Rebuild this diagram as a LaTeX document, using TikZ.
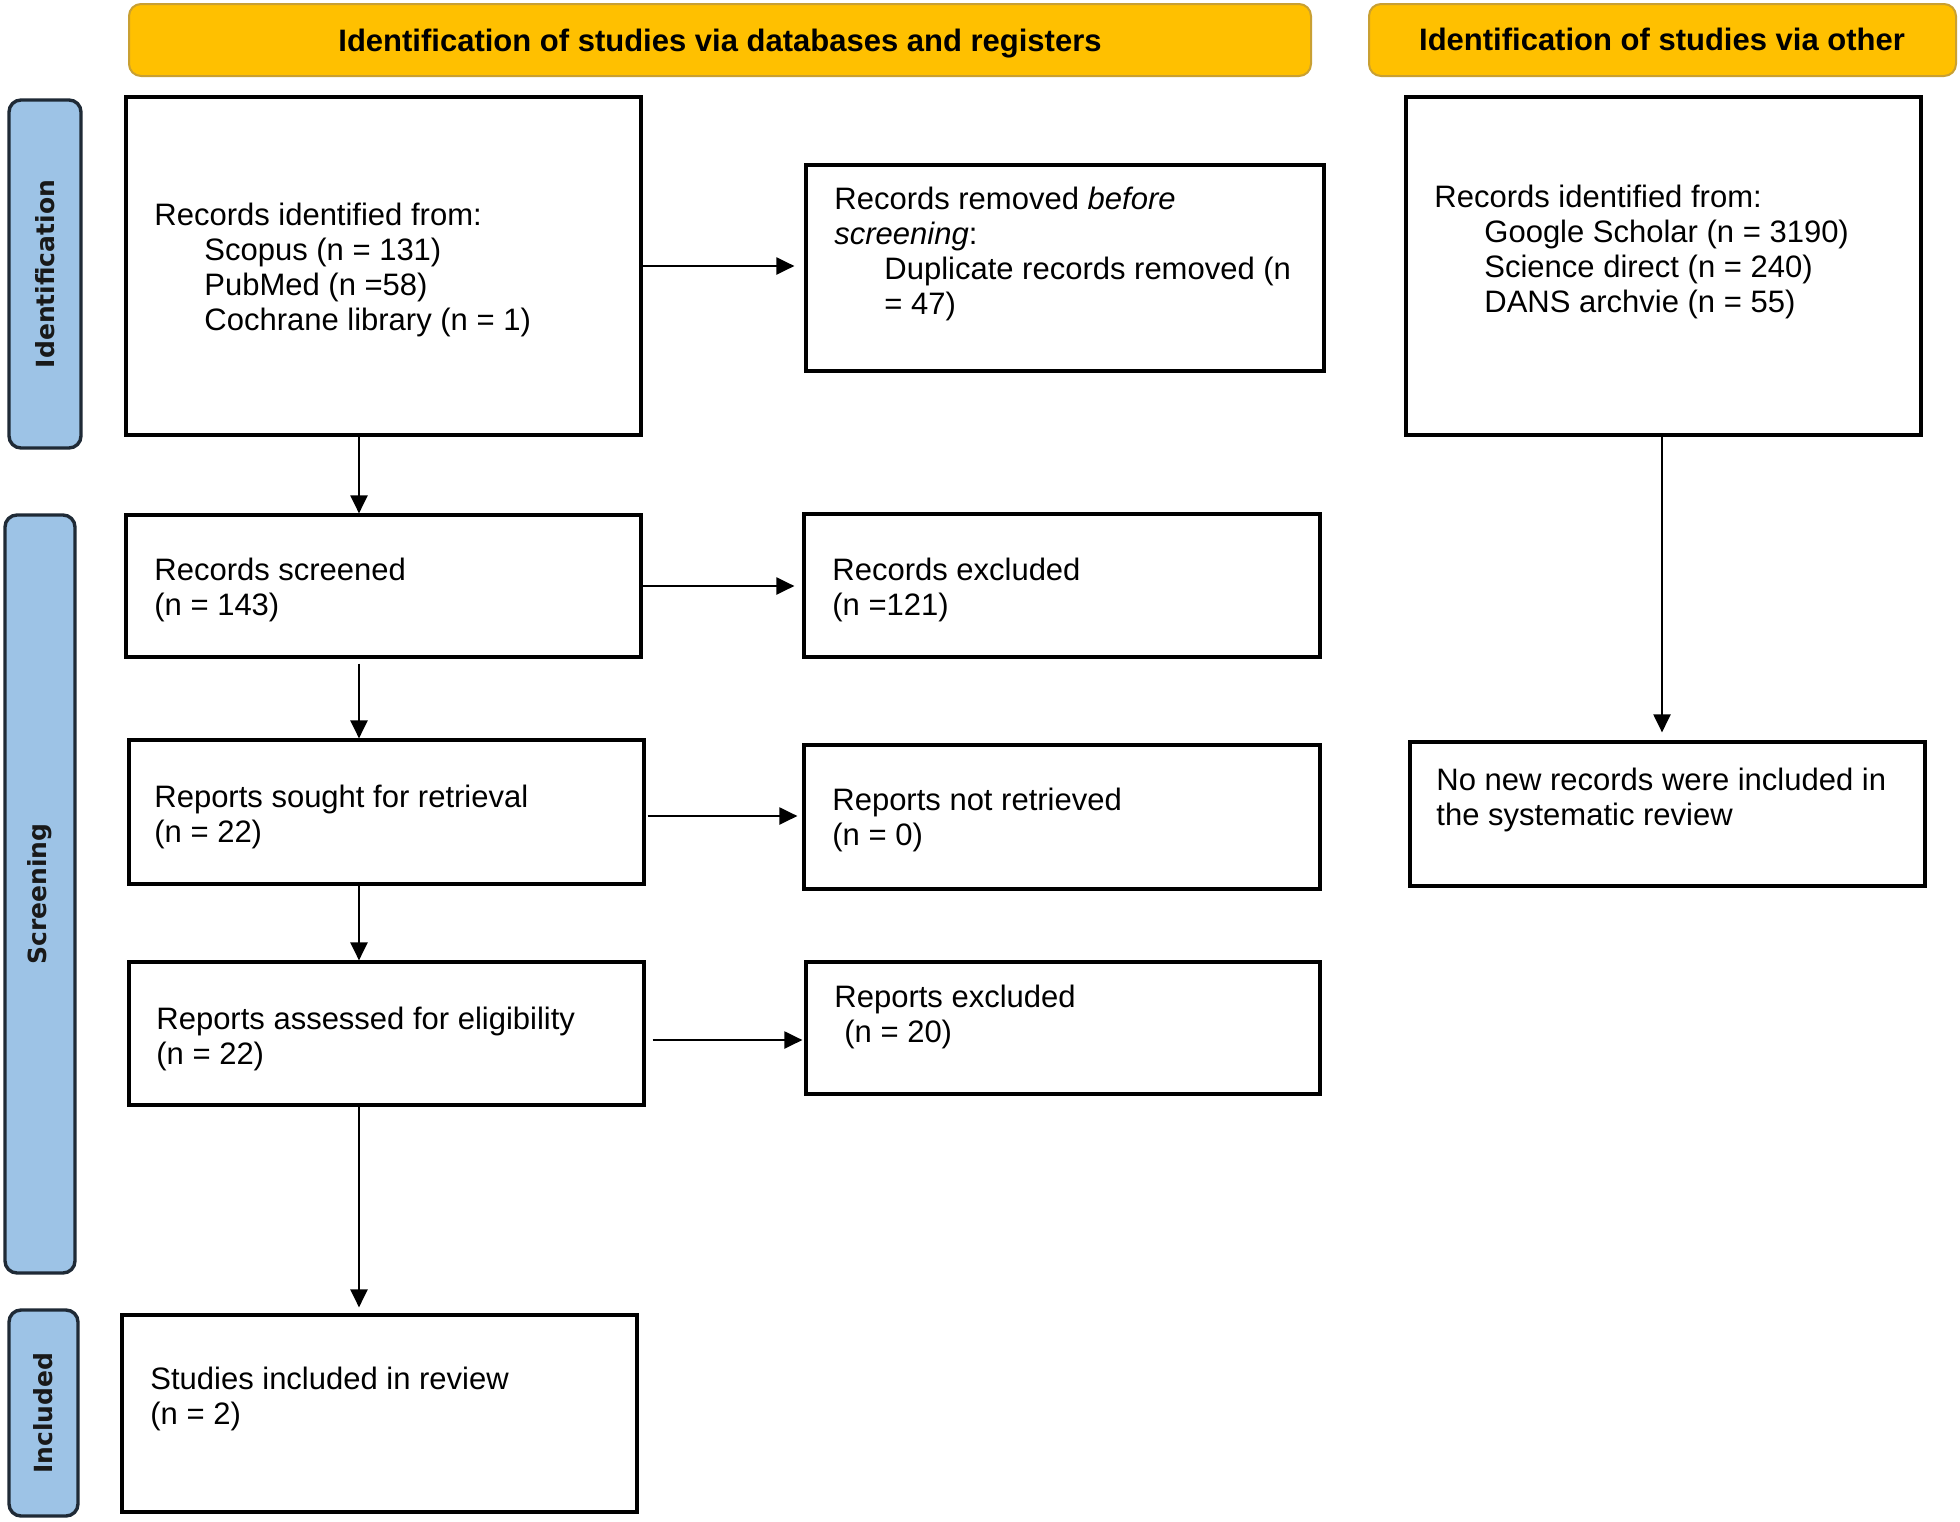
\documentclass[tikz,border=0pt]{standalone}
\usepackage{fontspec}
\setmainfont{Liberation Sans}
\newfontfamily\sidefont{DejaVu Sans}
\usetikzlibrary{arrows.meta,fit,calc}
\definecolor{hdrfill}{HTML}{FFC000}
\definecolor{hdrline}{HTML}{C9A032}
\definecolor{sidefill}{HTML}{9DC3E6}
\definecolor{sideline}{HTML}{1F2A36}
\begin{document}
\begin{tikzpicture}[x=0.5pt,y=-0.5pt,
  pbox/.style={draw=black, line width=1.6pt, inner sep=0pt},
  hdr/.style={draw=hdrline, fill=hdrfill, line width=1pt, rounded corners=6pt, inner sep=0pt},
  side/.style={draw=sideline, fill=sidefill, line width=1.7pt, rounded corners=6pt, inner sep=0pt},
  txt/.style={inner sep=0pt, anchor=north west, align=left, font=\fontsize{15.5pt}{17.5pt}\selectfont},
  hdrtxt/.style={inner sep=0pt, anchor=base, font=\bfseries\fontsize{15.5pt}{17.5pt}\selectfont},
  sidetxt/.style={inner sep=0pt, rotate=90, text=black!90, font=\sidefont\bfseries\fontsize{12.5pt}{14pt}\selectfont},
  arr/.style={line width=1.1pt, -{Triangle[length=9pt,width=8.5pt]}}]
\useasboundingbox (0,0) rectangle (1960,1521);
% headers
\node[hdr, fit={(129,4) (1311,76)}] (H1) {};
\node[hdrtxt] (H1t) at (720,51) {Identification of studies via databases and registers};
\node[hdr, fit={(1369,4) (1956,76)}] (H2) {};
\node[hdrtxt] (H2t) at (1662,50) {Identification of studies via other};
% side labels
\node[side, fit={(9,100) (81,448)}] (S1) {};
\node[sidetxt] (S1t) at (S1.center) {Identification};
\node[side, fit={(5,515) (75,1273)}] (S2) {};
\node[sidetxt] (S2t) at (S2.center) {Screening};
\node[side, fit={(9,1310) (78,1516)}] (S3) {};
\node[sidetxt] (S3t) at (S3.center) {Included};
% boxes
\node[pbox, fit={(126,97) (641,435)}] (A) {};
\node[txt] (At) at (154,203) {Records identified from:\\
\hspace*{25pt}Scopus (n = 131)\\
\hspace*{25pt}PubMed (n =58)\\
\hspace*{25pt}Cochrane library (n = 1)};
\node[pbox, fit={(806,165) (1324,371)}] (B) {};
\node[txt] (Bt) at (834,187) {Records removed \textit{before}\\
\textit{screening}:\\
\hspace*{25pt}Duplicate records removed (n\\
\hspace*{25pt}= 47)};
\node[pbox, fit={(1406,97) (1921,435)}] (O1) {};
\node[txt] (O1t) at (1434,185) {Records identified from:\\
\hspace*{25pt}Google Scholar (n = 3190)\\
\hspace*{25pt}Science direct (n = 240)\\
\hspace*{25pt}DANS archvie (n = 55)};
\node[pbox, fit={(126,515) (641,657)}] (C) {};
\node[txt] (Ct) at (154,558) {Records screened\\(n = 143)};
\node[pbox, fit={(804,514) (1320,657)}] (D) {};
\node[txt] (Dt) at (832,558) {Records excluded\\(n =121)};
\node[pbox, fit={(129,740) (644,884)}] (E) {};
\node[txt] (Et) at (154,785) {Reports sought for retrieval\\(n = 22)};
\node[pbox, fit={(804,745) (1320,889)}] (F) {};
\node[txt] (Ft) at (832,788) {Reports not retrieved\\(n = 0)};
\node[pbox, fit={(1410,742) (1925,886)}] (O2) {};
\node[txt] (O2t) at (1436,768) {No new records were included in\\the systematic review};
\node[pbox, fit={(129,962) (644,1105)}] (G) {};
\node[txt] (Gt) at (156,1007) {Reports assessed for eligibility\\(n = 22)};
\node[pbox, fit={(806,962) (1320,1094)}] (H) {};
\node[txt] (Ht) at (834,985) {Reports excluded\\\hspace*{5pt}(n = 20)};
\node[pbox, fit={(122,1315) (637,1512)}] (I) {};
\node[txt] (It) at (150,1367) {Studies included in review\\(n = 2)};
% helper coordinates
\coordinate (sp) at (359,0);
\coordinate (spO) at (1662,0);
\coordinate (yAB) at (0,266);
\coordinate (yCD) at (0,586);
\coordinate (yEF) at (0,816);
\coordinate (yGH) at (0,1040);
% connectors
\draw[arr, shorten >=5pt] (A.east |- yAB) -- (B.west |- yAB);
\draw[arr] (A.south -| sp) -- (C.north -| sp);
\draw[arr, shorten >=4pt] (C.east |- yCD) -- (D.west |- yCD);
\draw[arr, shorten <=2.5pt] (C.south -| sp) -- (E.north -| sp);
\draw[arr, shorten <=1pt, shorten >=2.5pt] (E.east |- yEF) -- (F.west |- yEF);
\draw[arr] (E.south -| sp) -- (G.north -| sp);
\draw[arr, shorten <=3.5pt, shorten >=1pt] (G.east |- yGH) -- (H.west |- yGH);
\draw[arr, shorten >=3pt] (G.south -| sp) -- (I.north -| sp);
\draw[arr, shorten >=4pt] (O1.south -| spO) -- (O2.north -| spO);
\end{tikzpicture}
\end{document}
